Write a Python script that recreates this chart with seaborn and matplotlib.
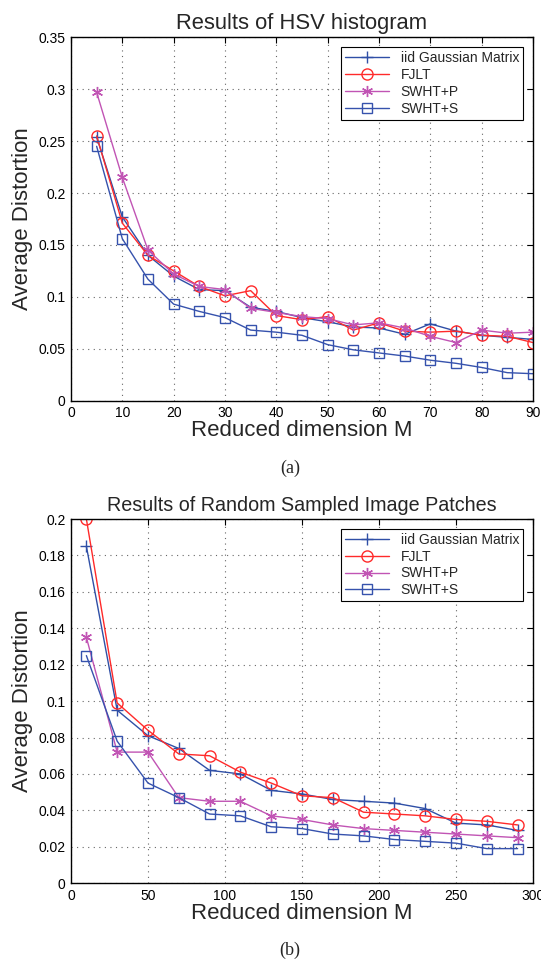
import numpy as np
import pandas as pd
import matplotlib
matplotlib.use("Agg")
import matplotlib.pyplot as plt
import seaborn as sns

# =========================================
# DATA
# =========================================

methods = ["iid Gaussian Matrix", "FJLT", "SWHT+P", "SWHT+S"]

# (a) HSV histogram
m_hsv = [5, 10, 15, 20, 25, 30, 35, 40, 45, 50, 55, 60, 65, 70, 75, 80, 85, 90]
hsv_iid = [0.254, 0.177, 0.140, 0.120, 0.107, 0.106, 0.090, 0.086, 0.080,
           0.076, 0.071, 0.070, 0.064, 0.074, 0.067, 0.063, 0.061, 0.059]
hsv_fjlt = [0.255, 0.171, 0.140, 0.125, 0.110, 0.101, 0.106, 0.082, 0.078,
            0.081, 0.068, 0.075, 0.067, 0.066, 0.067, 0.063, 0.062, 0.056]
hsv_swhtp = [0.297, 0.215, 0.145, 0.122, 0.110, 0.107, 0.089, 0.085, 0.081,
             0.079, 0.073, 0.075, 0.070, 0.062, 0.056, 0.068, 0.065, 0.066]
hsv_swhts = [0.245, 0.156, 0.117, 0.093, 0.086, 0.080, 0.068, 0.066, 0.063,
             0.054, 0.049, 0.046, 0.043, 0.039, 0.036, 0.032, 0.027, 0.026]

# (b) random sampled image patches
m_patch = [10, 30, 50, 70, 90, 110, 130, 150, 170, 190, 210, 230, 250, 270, 290]
patch_iid = [0.185, 0.095, 0.081, 0.074, 0.062, 0.060, 0.051, 0.049, 0.046,
             0.045, 0.044, 0.041, 0.033, 0.032, 0.029]
patch_fjlt = [0.200, 0.099, 0.084, 0.071, 0.070, 0.061, 0.055, 0.048, 0.047,
              0.039, 0.038, 0.037, 0.035, 0.034, 0.032]
patch_swhtp = [0.135, 0.072, 0.072, 0.047, 0.045, 0.045, 0.037, 0.035, 0.032,
               0.030, 0.029, 0.028, 0.027, 0.026, 0.025]
patch_swhts = [0.125, 0.078, 0.055, 0.047, 0.038, 0.037, 0.031, 0.030, 0.027,
               0.026, 0.024, 0.023, 0.022, 0.019, 0.019]

hsv_xticks = [0, 10, 20, 30, 40, 50, 60, 70, 80, 90]
hsv_yticks = [0, 0.05, 0.1, 0.15, 0.2, 0.25, 0.3, 0.35]
hsv_ylabels = ["0", "0.05", "0.1", "0.15", "0.2", "0.25", "0.3", "0.35"]
patch_xticks = [0, 50, 100, 150, 200, 250, 300]
patch_yticks = [0, 0.02, 0.04, 0.06, 0.08, 0.1, 0.12, 0.14, 0.16, 0.18, 0.2]
patch_ylabels = ["0", "0.02", "0.04", "0.06", "0.08", "0.1", "0.12",
                 "0.14", "0.16", "0.18", "0.2"]

# =========================================
# STYLE
# =========================================

sns.set_style("white")
plt.rcParams['font.family'] = ['Liberation Sans', 'DejaVu Sans']

# matlab style asterisk = 6 spokes
styles = {
    "iid Gaussian Matrix": dict(color="#2f4fa6", marker="+", ms=9, mfc="none"),
    "FJLT": dict(color="#ff2a2a", marker="o", ms=8, mfc="none"),
    "SWHT+P": dict(color="#c154b4", marker=(6, 2, 0), ms=8, mfc="none"),
    "SWHT+S": dict(color="#3652ad", marker="s", ms=7, mfc="none"),
}


def draw(ax, x, series, title, title_size, xticks, yticks, ylabels, xlim, ylim):
    for name, vals in zip(methods, series):
        st = styles[name]
        sns.lineplot(x=x, y=vals, ax=ax, color=st["color"], marker=st["marker"],
                     markersize=st["ms"], markerfacecolor=st["mfc"],
                     markeredgecolor=st["color"], markeredgewidth=1.0,
                     linewidth=1.0, label=name)
    ax.set_xlim(*xlim)
    ax.set_ylim(*ylim)
    ax.set_xticks(xticks)
    ax.set_yticks(yticks)
    ax.set_yticklabels(ylabels)
    ax.grid(True, linestyle=(0, (1, 4)), color="#666666", linewidth=0.8)
    ax.tick_params(direction="in", top=True, right=True, labelsize=10,
                   length=4, width=0.8, colors="black", pad=4)
    for sp in ax.spines.values():
        sp.set_color("black")
        sp.set_linewidth(1.0)
    ax.set_title(title, fontsize=title_size, pad=6)
    ax.set_xlabel("Reduced dimension M", fontsize=16, labelpad=0)
    ax.set_ylabel("Average Distortion", fontsize=16, labelpad=4)
    leg = ax.legend(loc="upper right", fontsize=10, frameon=True, fancybox=False,
                    edgecolor="black", framealpha=1, borderpad=0.3,
                    handlelength=3.2, labelspacing=0.2, borderaxespad=0.7)
    leg.get_frame().set_linewidth(0.8)


# =========================================
# FIGURE
# =========================================

fig = plt.figure(figsize=(5.41, 9.66), dpi=100)

ax1 = fig.add_axes([0.1312, 0.5852, 0.854, 0.3762])
draw(ax1, m_hsv, [hsv_iid, hsv_fjlt, hsv_swhtp, hsv_swhts],
     "Results of HSV histogram", 15.8, hsv_xticks, hsv_yticks, hsv_ylabels,
     (0, 90), (0, 0.35))

ax2 = fig.add_axes([0.1312, 0.0857, 0.854, 0.377])
draw(ax2, m_patch, [patch_iid, patch_fjlt, patch_swhtp, patch_swhts],
     "Results of Random Sampled Image Patches", 14.2, patch_xticks,
     patch_yticks, patch_ylabels, (0, 300), (0, 0.2))

fig.text(0.536, 1 - 468 / 966, "(a)", ha="center", va="center",
         fontsize=13, family="Liberation Serif")
fig.text(0.536, 1 - 950 / 966, "(b)", ha="center", va="center",
         fontsize=13, family="Liberation Serif")

plt.savefig("out.png", dpi=100)
